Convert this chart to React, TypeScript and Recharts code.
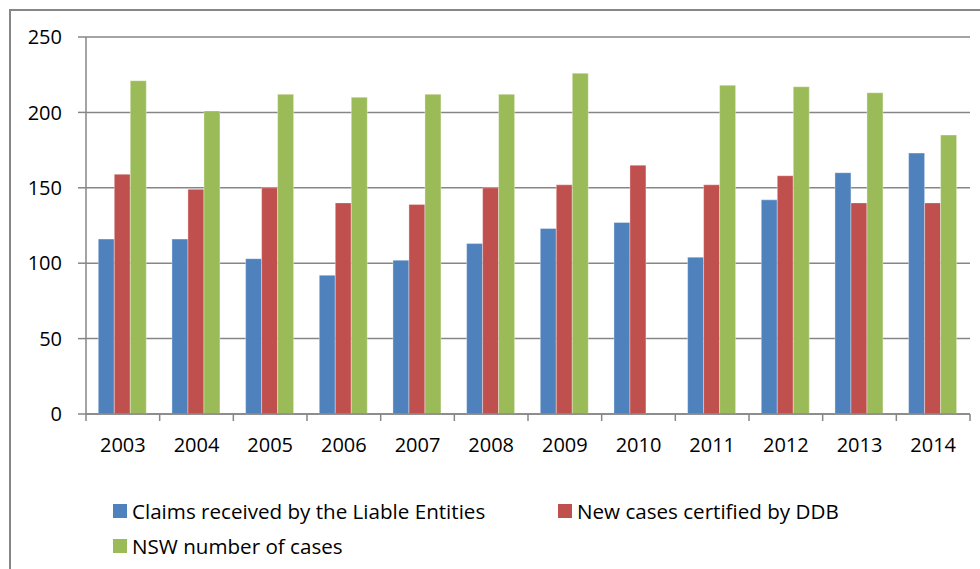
import React from 'react';
import { BarChart, Bar, XAxis, YAxis, CartesianGrid, Legend } from 'recharts';

const years = ['2003', '2004', '2005', '2006', '2007', '2008', '2009', '2010', '2011', '2012', '2013', '2014'];
const claimsReceived = [116, 116, 103, 92, 102, 113, 123, 127, 104, 142, 160, 173];
const newCasesDdb = [159, 149, 150, 140, 139, 150, 152, 165, 152, 158, 140, 140];
const nswCases = [221, 201, 212, 210, 212, 212, 226, null, 218, 217, 213, 185];
const yTicks = [0, 50, 100, 150, 200, 250];

const seriesNames = ['Claims received by the Liable Entities', 'New cases certified by DDB', 'NSW number of cases'];
const seriesColors = ['#4F81BD', '#C0504D', '#9BBB59'];

const data = years.map((year, i) => ({
  year,
  claims: claimsReceived[i],
  ddb: newCasesDdb[i],
  nsw: nswCases[i],
}));

const W = 980;
const H = 569;
const MARGIN = { top: 37, right: 10, left: 0, bottom: 95 };
const Y_AXIS_W = 86;
const X_AXIS_H = 60;
const BAND = (W - MARGIN.left - MARGIN.right - Y_AXIS_W) / years.length;
const GRID = '#868686';
const FONT = "'Open Sans', sans-serif";

// category ticks sit on the band edges, like Excel
const XTick = (props: any) => {
  const { x, y, payload, index } = props;
  const half = BAND / 2;
  return (
    <g>
      <line x1={x - half} y1={y} x2={x - half} y2={y + 7} stroke={GRID} strokeWidth={1.5} />
      {index === years.length - 1 && (
        <line x1={x + half} y1={y} x2={x + half} y2={y + 7} stroke={GRID} strokeWidth={1.5} />
      )}
      <text x={x} y={y + 24} dy="0.71em" textAnchor="middle" fill="#000" fontSize={20} fontFamily={FONT}>
        {payload.value}
      </text>
    </g>
  );
};

const legendSpots = [
  { left: 113, top: 0 },
  { left: 558, top: 0 },
  { left: 113, top: 35 },
];

const renderLegend = () => (
  <div style={{ position: 'relative', width: W, height: 60, fontFamily: FONT, fontSize: 20.6, color: '#000' }}>
    {seriesNames.map((name, i) => (
      <div
        key={name}
        style={{
          position: 'absolute',
          left: legendSpots[i].left,
          top: legendSpots[i].top,
          display: 'flex',
          alignItems: 'center',
          height: 22,
          whiteSpace: 'nowrap',
        }}
      >
        <span style={{ width: 14, height: 14, background: seriesColors[i], marginRight: 5, display: 'inline-block' }} />
        <span>{name}</span>
      </div>
    ))}
  </div>
);

export default function App() {
  return (
    <div style={{ position: 'absolute', left: 0, top: 0, width: W, height: H, background: '#fff', overflow: 'hidden' }}>
      <div
        style={{
          position: 'absolute',
          left: 9,
          top: 9,
          width: W,
          height: H,
          borderTop: `2px solid ${GRID}`,
          borderLeft: `2px solid ${GRID}`,
          pointerEvents: 'none',
        }}
      />
      <BarChart width={W} height={H} data={data} margin={MARGIN} barCategoryGap="16.67%" barGap={0}>
        <CartesianGrid vertical={false} stroke={GRID} strokeWidth={1.5} />
        <XAxis
          dataKey="year"
          height={X_AXIS_H}
          interval={0}
          tickSize={0}
          tickMargin={0}
          tick={<XTick />}
          axisLine={{ stroke: GRID, strokeWidth: 1.5 }}
          tickLine={false}
        />
        <YAxis
          width={Y_AXIS_W}
          domain={[0, 250]}
          ticks={yTicks}
          interval={0}
          tickSize={8}
          tickMargin={16}
          tick={{ fill: '#000', fontSize: 20, fontFamily: FONT }}
          axisLine={{ stroke: GRID, strokeWidth: 1.5 }}
          tickLine={{ stroke: GRID, strokeWidth: 1.5 }}
        />
        <Legend
          layout="horizontal"
          verticalAlign="middle"
          content={renderLegend}
          wrapperStyle={{ top: 500, left: 0, width: W }}
        />
        <Bar dataKey="claims" name={seriesNames[0]} fill={seriesColors[0]} stroke="rgba(255,255,255,0.35)" strokeWidth={1} isAnimationActive={false} />
        <Bar dataKey="ddb" name={seriesNames[1]} fill={seriesColors[1]} stroke="rgba(255,255,255,0.35)" strokeWidth={1} isAnimationActive={false} />
        <Bar dataKey="nsw" name={seriesNames[2]} fill={seriesColors[2]} stroke="rgba(255,255,255,0.35)" strokeWidth={1} isAnimationActive={false} />
      </BarChart>
    </div>
  );
}
